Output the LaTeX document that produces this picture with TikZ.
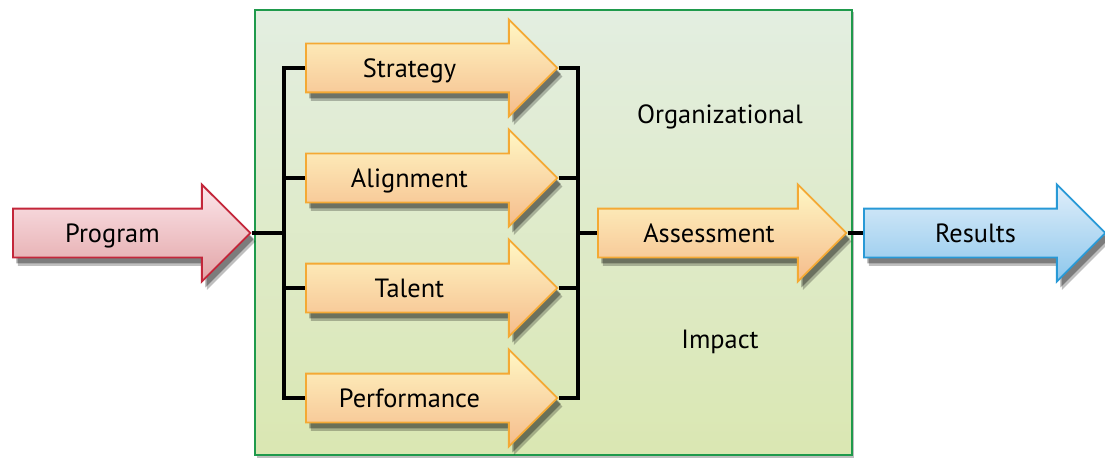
\documentclass[tikz,border=0pt]{standalone}
\usepackage{fontspec}
\setmainfont{PT Sans}
\usetikzlibrary{shapes.arrows, shadows, backgrounds}

\definecolor{boxline}{HTML}{1F9A4C}
\definecolor{boxtop}{HTML}{E3EEE1}
\definecolor{boxbottom}{HTML}{DAE7B2}
\definecolor{progline}{HTML}{C3263A}
\definecolor{progtop}{HTML}{FCE6EB}
\definecolor{progbottom}{HTML}{E2A4A6}
\definecolor{stepline}{HTML}{F4A934}
\definecolor{steptop}{HTML}{FFF7C4}
\definecolor{stepbottom}{HTML}{F5BC8C}
\definecolor{resline}{HTML}{2899D6}
\definecolor{restop}{HTML}{E0EEFA}
\definecolor{resbottom}{HTML}{8DC7EC}

\begin{document}
\begin{tikzpicture}[
		flow/.style={shape=single arrow, single arrow head extend=0.48cm,
			single arrow tip angle=90, inner xsep=0pt, inner ysep=0pt,
			text width=#1+0.4cm, align=left,
			text height=0.655cm, text depth=0.285cm,
			line width=1.1pt, anchor=tail,
			font=\fontsize{15}{18}\selectfont,
			drop shadow={shadow xshift=0.07cm, shadow yshift=-0.12cm, opacity=0.35, fill=black},
			drop shadow={shadow xshift=0.1cm, shadow yshift=-0.17cm, opacity=0.25, fill=black}},
		prog/.style={flow=#1, draw=progline, top color=progtop, bottom color=progbottom},
		stepbox/.style={flow=#1, draw=stepline, top color=steptop, bottom color=stepbottom},
		res/.style={flow=#1, draw=resline, top color=restop, bottom color=resbottom},
		link/.style={line width=2.2pt, black}
	]
	\useasboundingbox (0,0) rectangle (22.1,9.2);

	% inputs and outputs
	\node[prog=3.82cm] (program) at (0.24,4.54) {\hspace*{0.06cm}\makebox[3.82cm]{Program}};
	\node[stepbox=4.1cm] (strategy) at (6.1,7.84) {\makebox[4.1cm]{Strategy}};
	\node[stepbox=4.1cm] (alignment) at (6.1,5.64) {\makebox[4.1cm]{Alignment}};
	\node[stepbox=4.1cm] (talent) at (6.1,3.44) {\makebox[4.1cm]{Talent}};
	\node[stepbox=4.1cm] (performance) at (6.1,1.24) {\makebox[4.1cm]{Performance}};
	\node[stepbox=4.04cm] (assessment) at (11.94,4.54) {\hspace*{0.18cm}\makebox[4.04cm]{Assessment}};
	\node[res=3.9cm] (results) at (17.26,4.54) {\hspace*{0.26cm}\makebox[3.9cm]{Results}};

	\node[font=\fontsize{15}{18}\selectfont] (organizational) at (14.4,6.86) {Organizational};
	\node[font=\fontsize{15}{18}\selectfont] (impact) at (14.4,2.36) {Impact};

	\coordinate (lb) at (5.68,4.54);
	\coordinate (rb) at (11.56,4.54);

	\begin{scope}[on background layer]
		% the frame
		\node[draw=boxline, line width=1.2pt, top color=boxtop, bottom color=boxbottom,
			minimum width=11.94cm, minimum height=8.9cm, inner sep=0pt,
			drop shadow={shadow xshift=0.03cm, shadow yshift=-0.05cm, opacity=0.25, fill=black}]
			(frame) at (11.07,4.55) {};
		% connectors
		\draw[link] (program.tip) -- (lb);
		\draw[link] (strategy.tail) -| (lb) |- (performance.tail);
		\draw[link] (alignment.tail) -- (alignment.tail -| lb);
		\draw[link] (talent.tail) -- (talent.tail -| lb);
		\draw[link] (strategy.tip) -| (rb) |- (performance.tip);
		\draw[link] (alignment.tip) -- (alignment.tip -| rb);
		\draw[link] (talent.tip) -- (talent.tip -| rb);
		\draw[link] (rb) -- (assessment.tail);
		\draw[link] (assessment.tip) -- (results.tail);
	\end{scope}
\end{tikzpicture}
\end{document}
